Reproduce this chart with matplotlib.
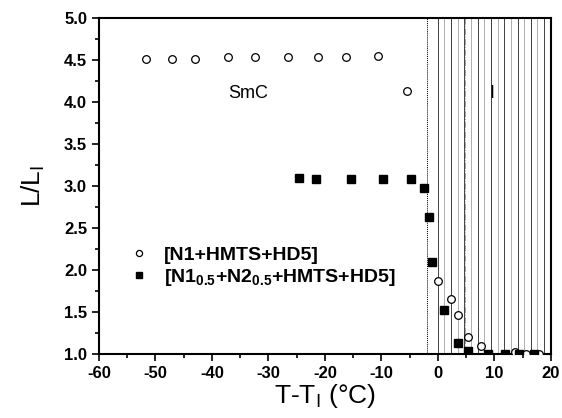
import numpy as np
import matplotlib.pyplot as plt
from matplotlib.ticker import MultipleLocator

plt.rcParams['font.family'] = ['Liberation Sans', 'DejaVu Sans']
plt.rcParams['axes.unicode_minus'] = False

# [N1+HMTS+HD5]
t_n1 = [-51.6, -47.1, -43.0, -37.1, -32.4, -26.5, -21.2, -16.2, -10.6, -5.5,
        0.05, 2.3, 3.6, 5.4, 7.7, 13.6, 15.7, 18.0]
l_n1 = [4.51, 4.51, 4.51, 4.53, 4.53, 4.53, 4.53, 4.53, 4.55, 4.13,
        1.87, 1.66, 1.46, 1.20, 1.10, 1.02, 1.00, 1.00]

# [N1_0.5+N2_0.5+HMTS+HD5]
t_mix = [-24.6, -21.5, -15.45, -9.7, -4.8, -2.5, -1.6, -1.0, 1.1, 3.6, 5.4,
         8.8, 11.9, 14.4, 17.0]
l_mix = [3.10, 3.08, 3.08, 3.08, 3.08, 2.98, 2.63, 2.09, 1.52, 1.13, 1.04,
         1.00, 1.00, 1.00, 1.00]

fig = plt.figure(figsize=(5.62, 4.18), dpi=100)
ax = fig.add_axes([0.176, 0.153, 0.804, 0.804])

# isotropic region hatching
hatch_x = np.linspace(0, 20, 18)
for i, xv in enumerate(hatch_x):
    ax.axvline(xv, color='#222222' if i % 2 == 0 else '#a0a0a0', lw=0.6, zorder=1)
ax.axvline(4.8, color='#a0a0a0', lw=0.7, ls='-.', zorder=1)
ax.axvline(-2.0, color='black', lw=0.7, ls=(0, (1, 1)), zorder=1)

ax.plot(t_n1, l_n1, 'o', ms=5.5, mfc='white', mec='black', mew=0.9,
        label='[N1+HMTS+HD5]', zorder=3)
ax.plot(t_mix, l_mix, 's', ms=5.5, mfc='black', mec='black',
        label=r'[N1$_\mathregular{0.5}$+N2$_\mathregular{0.5}$+HMTS+HD5]', zorder=3)

ax.text(-33.6, 4.1, 'SmC', fontsize=13, ha='center', va='center')
ax.text(9.6, 4.1, 'I', fontsize=13, ha='center', va='center')

ax.set_xlim(-60, 20)
ax.set_ylim(1.0, 5.0)
ax.xaxis.set_major_locator(MultipleLocator(10))
ax.xaxis.set_minor_locator(MultipleLocator(5))
ax.yaxis.set_major_locator(MultipleLocator(0.5))
ax.yaxis.set_minor_locator(MultipleLocator(0.25))
ax.yaxis.set_major_formatter(lambda v, p: f'{v:.1f}')
ax.tick_params(which='major', direction='out', length=5, width=1.2,
               labelsize=12, top=False, right=False)
ax.tick_params(which='minor', direction='out', length=3, width=1.2,
               top=False, right=False)
for lab in ax.get_xticklabels() + ax.get_yticklabels():
    lab.set_fontweight('bold')
for sp in ax.spines.values():
    sp.set_linewidth(1.5)

ax.set_xlabel(r'T-T$_\mathregular{I}$ (°C)', fontsize=19, labelpad=1)
ax.set_ylabel(r'L/L$_\mathregular{I}$', fontsize=19, labelpad=12)

leg = ax.legend(loc='lower left', bbox_to_anchor=(0.02, 0.145), frameon=False,
                handletextpad=0.6, handlelength=1.4, labelspacing=0.15,
                markerscale=0.8, prop={'size': 14, 'weight': 'bold'})

fig.savefig('out.png', dpi=100)
